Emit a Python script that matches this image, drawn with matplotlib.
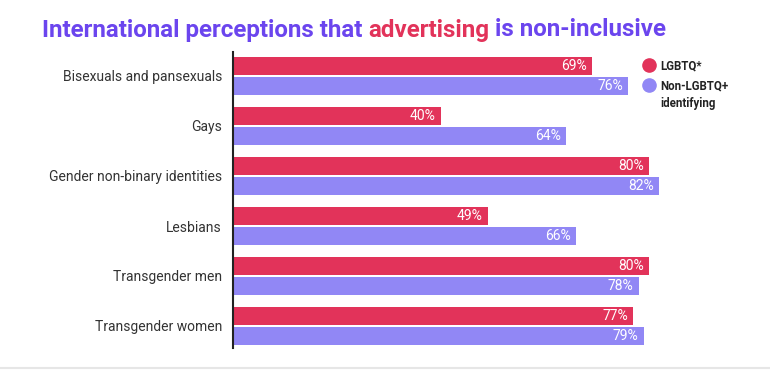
import matplotlib.pyplot as plt
import numpy as np
from matplotlib.lines import Line2D

# --- data ---
categories = ['Bisexuals and pansexuals', 'Gays', 'Gender non-binary identities',
              'Lesbians', 'Transgender men', 'Transgender women']
lgbtq = [69, 40, 80, 49, 80, 77]
non_lgbtq = [76, 64, 82, 66, 78, 79]
series_names = ['LGBTQ*', 'Non-LGBTQ+\nidentifying']

RED = '#E2335A'
PURPLE = '#9187F5'
TITLE_PURPLE = '#6B45EE'

plt.rcParams['font.family'] = ['Roboto', 'DejaVu Sans']

fig = plt.figure(figsize=(7.7, 3.71), dpi=100)
ax = fig.add_axes([233 / 770, 1 - 348 / 371, 520 / 770, 296 / 371])

y = np.arange(len(categories))
h = 0.37
ax.barh(y - 0.2, lgbtq, height=h, color=RED)
ax.barh(y + 0.2, non_lgbtq, height=h, color=PURPLE)

for yi, v in zip(y, lgbtq):
    ax.text(v - 1, yi - 0.2, f'{v}%', color='white', ha='right', va='center', fontsize=10)
for yi, v in zip(y, non_lgbtq):
    ax.text(v - 1, yi + 0.2, f'{v}%', color='white', ha='right', va='center', fontsize=10)

ax.set_xlim(0, 100)
ax.set_ylim(5.44, -0.48)
ax.set_yticks(y)
ax.set_yticklabels(categories, fontsize=10, color='#333333')
ax.tick_params(axis='y', length=0, pad=8)
ax.set_xticks([])
for s in ['top', 'right', 'bottom']:
    ax.spines[s].set_visible(False)
ax.spines['left'].set_color('#222222')
ax.spines['left'].set_linewidth(1.5)

# legend, built by hand so the marker sits on the first text line
for name, col, ly in zip(series_names, [RED, PURPLE], [65, 85]):
    fy = 1 - ly / 371
    fig.add_artist(Line2D([649 / 770], [fy], marker='o', ls='', color=col, markersize=9.5))
    fig.text(660 / 770, fy + 6 / 371, name, color='#222222', fontsize=8.3,
             fontweight='bold', va='top', ha='left', linespacing=1.45)

# title with highlighted word
ty = 1 - 30 / 371
t1 = fig.text(42 / 770, ty, 'International perceptions that ', color=TITLE_PURPLE,
              fontsize=17.4, fontweight='bold', va='center')
fig.canvas.draw()
bb = t1.get_window_extent()
t2 = fig.text(bb.x1 / 770, ty, 'advertising', color=RED,
              fontsize=17.4, fontweight='bold', va='center')
bb2 = t2.get_window_extent()
fig.text(bb2.x1 / 770, ty, ' is non-inclusive', color=TITLE_PURPLE,
         fontsize=17.4, fontweight='bold', va='center')

fig.add_artist(Line2D([0, 1], [1 - 368 / 371] * 2, color='#E6E6E6', lw=1.5))

fig.savefig('out.png', dpi=100)
